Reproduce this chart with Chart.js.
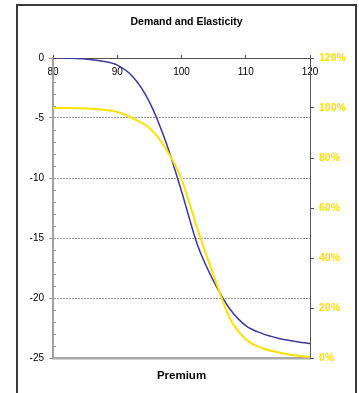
<!DOCTYPE html>
<html>
<head>
<meta charset="utf-8">
<script src="https://cdn.jsdelivr.net/npm/chart.js@4/dist/chart.umd.min.js"></script>
<style>
  html, body { margin: 0; padding: 0; background: #fff; }
  #wrap { width: 359px; height: 393px; }
  canvas { display: block; }
</style>
</head>
<body>
<div id="wrap"><canvas id="chart" width="359" height="393"></canvas></div>
<script>
// Premium levels (x) and the two series read against them
const premium    = [80, 82.5, 85, 87.5, 90, 92.5, 95, 97.5, 100, 102.5, 105, 107.5, 110, 112.5, 115, 117.5, 120];
const demand     = [0, -0.02, -0.08, -0.25, -0.6, -1.6, -3.65, -6.9, -11.1, -15.6, -18.6, -20.9, -22.3, -22.95, -23.35, -23.6, -23.8];
const elasticity = [100, 100, 99.8, 99.4, 98.4, 95.8, 92, 84, 71.5, 51.5, 33, 16, 7.5, 4, 2.3, 1.1, 0.4];

// Axis tick values
const premiumTicks    = [80, 90, 100, 110, 120];
const demandTicks     = [0, -5, -10, -15, -20, -25];
const elasticityTicks = [0, 20, 40, 60, 80, 100, 120];

const toPoints = (ys) => premium.map((x, i) => ({ x: x, y: ys[i] }));
const fixedTicks = (values) => (scale) => { scale.ticks = values.map(v => ({ value: v })); };

// Frame around the whole chart plus short minor ticks on the demand axis
const framePlugin = {
  id: 'frame',
  beforeDraw(chart) {
    const ctx = chart.ctx;
    ctx.save();
    ctx.fillStyle = '#fff';
    ctx.fillRect(0, 0, chart.width, chart.height);
    ctx.strokeStyle = '#3a3a3a';
    ctx.lineWidth = 2;
    ctx.strokeRect(17, 5, 339, 420);
    ctx.restore();
  },
  afterDraw(chart) {
    const y = chart.scales.y;
    const ctx = chart.ctx;
    ctx.save();
    ctx.strokeStyle = '#999';
    ctx.lineWidth = 1;
    ctx.beginPath();
    for (let v = y.max - 1; v > y.min; v--) {
      if (v % 5 === 0) continue;
      const py = Math.round(y.getPixelForValue(v)) + 0.5;
      ctx.moveTo(y.right, py);
      ctx.lineTo(y.right + 3, py);
    }
    ctx.stroke();
    ctx.restore();
  }
};

new Chart(document.getElementById('chart'), {
  type: 'line',
  data: {
    datasets: [
      {
        label: 'Elasticity',
        data: toPoints(elasticity),
        xAxisID: 'x',
        yAxisID: 'y1',
        borderColor: '#FFE000',
        borderWidth: 2,
        pointRadius: 0,
        cubicInterpolationMode: 'monotone',
        fill: false
      },
      {
        label: 'Demand',
        data: toPoints(demand),
        xAxisID: 'x',
        yAxisID: 'y',
        borderColor: '#3a3a9e',
        borderWidth: 1.5,
        pointRadius: 0,
        cubicInterpolationMode: 'monotone',
        fill: false
      }
    ]
  },
  options: {
    responsive: false,
    animation: false,
    devicePixelRatio: 1,
    layout: { padding: { left: 17, right: 3, top: 0, bottom: 0 } },
    plugins: {
      legend: { display: false },
      tooltip: { enabled: false },
      title: {
        display: true,
        text: 'Demand and Elasticity',
        color: '#000',
        font: { family: 'Liberation Sans, Arial, sans-serif', size: 10.5, weight: 'bold' },
        padding: { top: 16, bottom: 10 }
      }
    },
    scales: {
      x: {
        type: 'linear',
        position: 'top',
        min: 80,
        max: 120,
        afterBuildTicks: fixedTicks(premiumTicks),
        afterFit: (s) => { s.height = 19.4; },
        grid: { drawOnChartArea: false, tickLength: 3, tickColor: '#555' },
        border: { color: '#555', width: 1 },
        ticks: {
          mirror: true,
          padding: 8,
          maxRotation: 0,
          color: '#000',
          font: { family: 'Liberation Sans, Arial, sans-serif', size: 10 }
        }
      },
      x2: {
        type: 'linear',
        position: 'bottom',
        min: 80,
        max: 120,
        afterFit: (s) => { s.height = 35; },
        grid: { display: false },
        border: { color: '#aaa', width: 2.5 },
        ticks: { display: false },
        title: {
          display: true,
          text: 'Premium',
          color: '#000',
          font: { family: 'Liberation Sans, Arial, sans-serif', size: 11.5, weight: 'bold' },
          padding: { top: 0, bottom: 10 }
        }
      },
      y: {
        type: 'linear',
        position: 'left',
        min: -25,
        max: 0,
        afterBuildTicks: fixedTicks(demandTicks),
        afterFit: (s) => { s.width = 36; },
        grid: {
          color: (c) => (c.tick && (c.tick.value === 0 || c.tick.value === -25)) ? 'rgba(0,0,0,0)' : '#999',
          lineWidth: 1,
          tickLength: 4,
          tickColor: '#999'
        },
        border: { color: '#a0a0a0', width: 2, dash: [2, 1] },
        ticks: {
          padding: 5,
          color: '#000',
          font: { family: 'Liberation Sans, Arial, sans-serif', size: 10 }
        }
      },
      y1: {
        type: 'linear',
        position: 'right',
        min: 0,
        max: 120,
        afterBuildTicks: fixedTicks(elasticityTicks),
        afterFit: (s) => { s.width = 46; },
        grid: { drawOnChartArea: false, tickLength: 4, tickColor: '#555' },
        border: { color: '#555', width: 1 },
        ticks: {
          padding: 5,
          color: '#FFE000',
          callback: (v) => v + '%',
          font: { family: 'Liberation Sans, Arial, sans-serif', size: 10.5, weight: 'bold' }
        }
      }
    }
  },
  plugins: [framePlugin]
});
</script>
</body>
</html>
